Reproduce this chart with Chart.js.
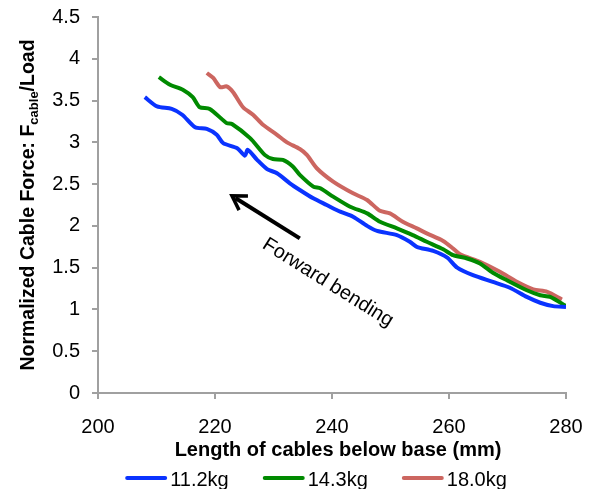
<!DOCTYPE html>
<html><head><meta charset="utf-8">
<script src="https://cdn.jsdelivr.net/npm/chart.js@4"></script>
<style>html,body{margin:0;padding:0;background:#fff}#wrap{width:596px;height:489px}</style>
</head><body><div id="wrap"><canvas id="c" width="596" height="489"></canvas></div>
<script>
const seriesNames = ['11.2kg', '14.3kg', '18.0kg'];
const blueX = [208.0,210.1,212.6,214.4,216.6,218.6,220.3,221.4,223.8,225.1,225.6,227.2,228.9,230.6,232.8,234.5,236.8,239.1,241.4,243.6,246.0,247.7,251.1,253.3,254.5,257.3,259.7,261.4,264.1,267.5,270.4,273.3,275.6,277.8,280.0];
const blueY = [3.54,3.43,3.40,3.33,3.18,3.16,3.09,2.99,2.93,2.84,2.91,2.79,2.68,2.63,2.51,2.43,2.33,2.25,2.17,2.11,2.00,1.94,1.89,1.81,1.75,1.70,1.62,1.50,1.41,1.33,1.26,1.15,1.08,1.04,1.03];
const greenX = [210.4,212.3,214.5,216.2,217.4,219.1,222.0,222.9,226.0,228.5,229.9,231.6,233.3,234.5,236.8,238.0,240.2,243.1,246.0,248.2,251.1,253.8,256.2,259.0,260.7,263.1,265.3,267.5,269.9,273.3,275.6,277.3,280.0];
const greenY = [3.78,3.69,3.63,3.54,3.42,3.40,3.23,3.22,3.05,2.85,2.80,2.79,2.71,2.61,2.47,2.45,2.35,2.23,2.15,2.05,1.97,1.89,1.81,1.72,1.65,1.61,1.55,1.44,1.35,1.23,1.17,1.15,1.04];
const redX = [218.6,219.7,220.9,222.0,223.1,224.8,226.5,228.2,230.6,232.3,234.5,235.7,237.4,240.2,243.6,246.0,248.2,249.9,252.1,254.5,256.2,259.0,260.7,261.9,265.3,268.7,271.6,274.4,276.8,279.3];
const redY = [3.83,3.77,3.66,3.67,3.60,3.42,3.33,3.21,3.09,3.00,2.92,2.85,2.69,2.53,2.39,2.31,2.18,2.15,2.05,1.97,1.91,1.82,1.73,1.66,1.57,1.45,1.33,1.24,1.21,1.12];
const xTicks = [200, 220, 240, 260, 280];
const yTicks = [0, 0.5, 1, 1.5, 2, 2.5, 3, 3.5, 4, 4.5];
const xTitle = 'Length of cables below base (mm)';
const yTitleParts = ['Normalized Cable Force: F', 'cable', '/Load'];
const arrowTip = [222.9, 2.36];
const arrowTail = [234.5, 1.85];
const annotationText = 'Forward bending';
const annotationPos = [239.3, 1.32];

const colors = ['#0a33ff', '#008a00', '#cc6660'];
const pts = (xs, ys) => xs.map((x, i) => ({x, y: ys[i]}));
const FONT = "'Liberation Sans', Arial, sans-serif";

const extras = {
  id: 'extras',
  afterDraw(chart) {
    const {ctx, scales: {x, y}} = chart;
    ctx.save();
    const tx = x.getPixelForValue(arrowTip[0]), ty = y.getPixelForValue(arrowTip[1]);
    const sx = x.getPixelForValue(arrowTail[0]), sy = y.getPixelForValue(arrowTail[1]);
    const ang = Math.atan2(ty - sy, tx - sx);
    ctx.strokeStyle = '#000'; ctx.lineWidth = 4; ctx.lineCap = 'butt';
    ctx.beginPath(); ctx.moveTo(sx, sy); ctx.lineTo(tx - 4 * Math.cos(ang), ty - 4 * Math.sin(ang)); ctx.stroke();
    ctx.lineWidth = 3.5; ctx.lineJoin = 'miter';
    ctx.beginPath();
    const hl = 16, ha = 0.55;
    ctx.moveTo(tx - hl * Math.cos(ang - ha), ty - hl * Math.sin(ang - ha));
    ctx.lineTo(tx, ty);
    ctx.lineTo(tx - hl * Math.cos(ang + ha), ty - hl * Math.sin(ang + ha));
    ctx.stroke();
    const px = x.getPixelForValue(annotationPos[0]), py = y.getPixelForValue(annotationPos[1]);
    ctx.translate(px, py); ctx.rotate(32 * Math.PI / 180);
    ctx.fillStyle = '#000'; ctx.font = '20px ' + FONT;
    ctx.textAlign = 'center'; ctx.textBaseline = 'middle';
    ctx.fillText(annotationText, 0, 0);
    ctx.restore();
    ctx.save();
    ctx.translate(29, (y.top + y.bottom) / 2);
    ctx.rotate(-Math.PI / 2);
    ctx.fillStyle = '#000'; ctx.textBaseline = 'middle'; ctx.textAlign = 'left';
    const big = 'bold 19.5px ' + FONT, small = 'bold 13px ' + FONT;
    ctx.font = big; const w1 = ctx.measureText(yTitleParts[0]).width, w3 = ctx.measureText(yTitleParts[2]).width;
    ctx.font = small; const w2 = ctx.measureText(yTitleParts[1]).width;
    let cx = -(w1 + w2 + w3) / 2;
    ctx.font = big; ctx.fillText(yTitleParts[0], cx, 0); cx += w1;
    ctx.font = small; ctx.fillText(yTitleParts[1], cx, 5); cx += w2;
    ctx.font = big; ctx.fillText(yTitleParts[2], cx, 0);
    ctx.restore();
    ctx.save();
    ctx.fillStyle = '#000'; ctx.font = 'bold 20px ' + FONT;
    ctx.textAlign = 'center'; ctx.textBaseline = 'middle';
    ctx.fillText(xTitle, 338, 450);
    ctx.restore();
    ctx.save();
    ctx.font = '20px ' + FONT; ctx.textBaseline = 'middle'; ctx.textAlign = 'left';
    const lineW = 42, gapT = 3, gapI = 34, ly = 480;
    const widths = chart.data.datasets.map(d => lineW + gapT + ctx.measureText(d.label).width);
    const total = widths.reduce((a, b) => a + b, 0) + gapI * (widths.length - 1);
    let lx = 316 - total / 2;
    chart.data.datasets.forEach((d, i) => {
      ctx.strokeStyle = d.borderColor; ctx.lineWidth = 4; ctx.lineCap = 'round';
      ctx.beginPath(); ctx.moveTo(lx + 2, ly - 2); ctx.lineTo(lx + lineW - 2, ly - 2); ctx.stroke();
      ctx.fillStyle = '#000';
      ctx.fillText(d.label, lx + lineW + gapT, ly);
      lx += widths[i] + gapI;
    });
    ctx.restore();
  }
};

new Chart(document.getElementById('c'), {
  type: 'scatter',
  data: {
    datasets: [
      {label: seriesNames[0], data: pts(blueX, blueY)},
      {label: seriesNames[1], data: pts(greenX, greenY)},
      {label: seriesNames[2], data: pts(redX, redY)}
    ].map((d, i) => Object.assign(d, {showLine: true, borderColor: colors[i], backgroundColor: colors[i], borderWidth: 4, pointRadius: 0, tension: 0.25}))
  },
  options: {
    responsive: false, animation: false,
    layout: {padding: {left: 0, right: 30, top: 17, bottom: 0}},
    plugins: {legend: {display: false}, tooltip: {enabled: false}},
    scales: {
      x: {type: 'linear', min: 200, max: 280,
        afterBuildTicks: a => { a.ticks = xTicks.map(v => ({value: v})); },
        afterFit: s => { s.height = 96; s.paddingLeft = 0; s.paddingRight = 0; },
        ticks: {color: '#000', font: {family: FONT, size: 20}, padding: 16, callback: v => String(v)},
        grid: {drawOnChartArea: false, drawTicks: true, tickLength: 6, color: '#a0a0a0', lineWidth: 2},
        border: {color: '#a0a0a0', width: 2}
      },
      y: {min: 0, max: 4.5,
        afterBuildTicks: a => { a.ticks = yTicks.map(v => ({value: v})); },
        afterFit: s => { s.width = 98; s.paddingTop = 0; s.paddingBottom = 0; },
        ticks: {color: '#000', font: {family: FONT, size: 20}, padding: 12, callback: v => String(v)},
        grid: {drawOnChartArea: false, drawTicks: true, tickLength: 6, color: '#a0a0a0', lineWidth: 2},
        border: {color: '#a0a0a0', width: 2}
      }
    }
  },
  plugins: [extras]
});
</script></body></html>
